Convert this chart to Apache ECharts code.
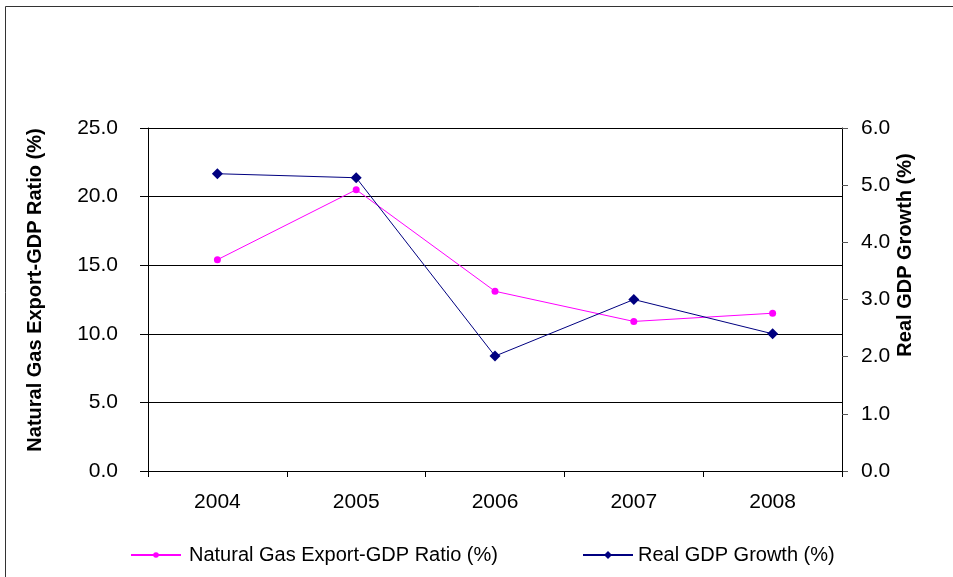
<!DOCTYPE html>
<html>
<head>
<meta charset="utf-8">
<script src="https://cdn.jsdelivr.net/npm/echarts@6/dist/echarts.min.js"></script>
<style>html,body{margin:0;padding:0;background:#fff}#c{width:953px;height:577px}</style>
</head>
<body>
<div id="c"></div>
<script>
var years = ['2004', '2005', '2006', '2007', '2008'];
var gasRatio = [15.4, 20.5, 13.1, 10.9, 11.5];
var gdpGrowth = [5.2, 5.13, 2.01, 3.0, 2.4];
var leftTicks = { min: 0, max: 25, interval: 5 };
var rightTicks = { min: 0, max: 6, interval: 1 };
var gasName = 'Natural Gas Export-GDP Ratio (%)';
var gdpName = 'Real GDP Growth (%)';

var font = 'Arial, "Liberation Sans", sans-serif';
var chart = echarts.init(document.getElementById('c'));
chart.setOption({
  animation: false,
  backgroundColor: '#fff',
  textStyle: { fontFamily: font },
  grid: { left: 148, right: 111, top: 128, bottom: 106 },
  graphic: [
    { type: 'rect', shape: { x: 5.5, y: 6.5, width: 960, height: 600 },
      style: { fill: 'none', stroke: '#333', lineWidth: 1 }, silent: true },
    { type: 'text', x: 35, y: 290, rotation: Math.PI / 2,
      style: { text: gasName, x: 0, y: 0, align: 'center', verticalAlign: 'middle',
               font: 'bold 20px ' + font, fill: '#000' } },
    { type: 'text', x: 905, y: 255, rotation: Math.PI / 2,
      style: { text: gdpName, x: 0, y: 0, align: 'center', verticalAlign: 'middle',
               font: 'bold 20px ' + font, fill: '#000' } }
  ],
  legend: [
    { data: [gasName], left: 125, top: 540, itemWidth: 50, itemHeight: 7,
      textStyle: { fontSize: 20, color: '#000', fontFamily: font, padding: [0, 0, 0, 3] } },
    { data: [gdpName], left: 577, top: 540, itemWidth: 50, itemHeight: 10,
      textStyle: { fontSize: 20, color: '#000', fontFamily: font } }
  ],
  xAxis: {
    type: 'category', data: years, boundaryGap: true,
    axisLine: { lineStyle: { color: '#000', width: 1 } },
    axisTick: { show: true, length: 6, lineStyle: { color: '#000' } },
    axisLabel: { fontSize: 21, color: '#000', margin: 21, fontFamily: font },
    splitLine: { show: false }
  },
  yAxis: [
    {
      type: 'value', position: 'left', min: leftTicks.min, max: leftTicks.max, interval: leftTicks.interval,
      axisLine: { show: true, lineStyle: { color: '#000', width: 1 } },
      axisTick: { show: true, length: 8, lineStyle: { color: '#000' } },
      axisLabel: { fontSize: 21, color: '#000', margin: 30, fontFamily: font,
                   formatter: function (v) { return v.toFixed(1); } },
      splitLine: { show: true, lineStyle: { color: '#000', width: 1 } }
    },
    {
      type: 'value', position: 'right', min: rightTicks.min, max: rightTicks.max, interval: rightTicks.interval,
      axisLine: { show: true, lineStyle: { color: '#000', width: 1 } },
      axisTick: { show: true, length: 6, lineStyle: { color: '#555' } },
      axisLabel: { fontSize: 21, color: '#000', margin: 19, fontFamily: font,
                   formatter: function (v) { return v.toFixed(1); } },
      splitLine: { show: false }
    }
  ],
  series: [
    {
      name: gasName, type: 'line', yAxisIndex: 0, data: gasRatio,
      symbol: 'circle', symbolSize: 7,
      itemStyle: { color: '#FF00FF' }, lineStyle: { color: '#FF00FF', width: 1 }
    },
    {
      name: gdpName, type: 'line', yAxisIndex: 1, data: gdpGrowth,
      symbol: 'diamond', symbolSize: 11,
      itemStyle: { color: '#000080' }, lineStyle: { color: '#000080', width: 1 }
    }
  ]
});
</script>
</body>
</html>
